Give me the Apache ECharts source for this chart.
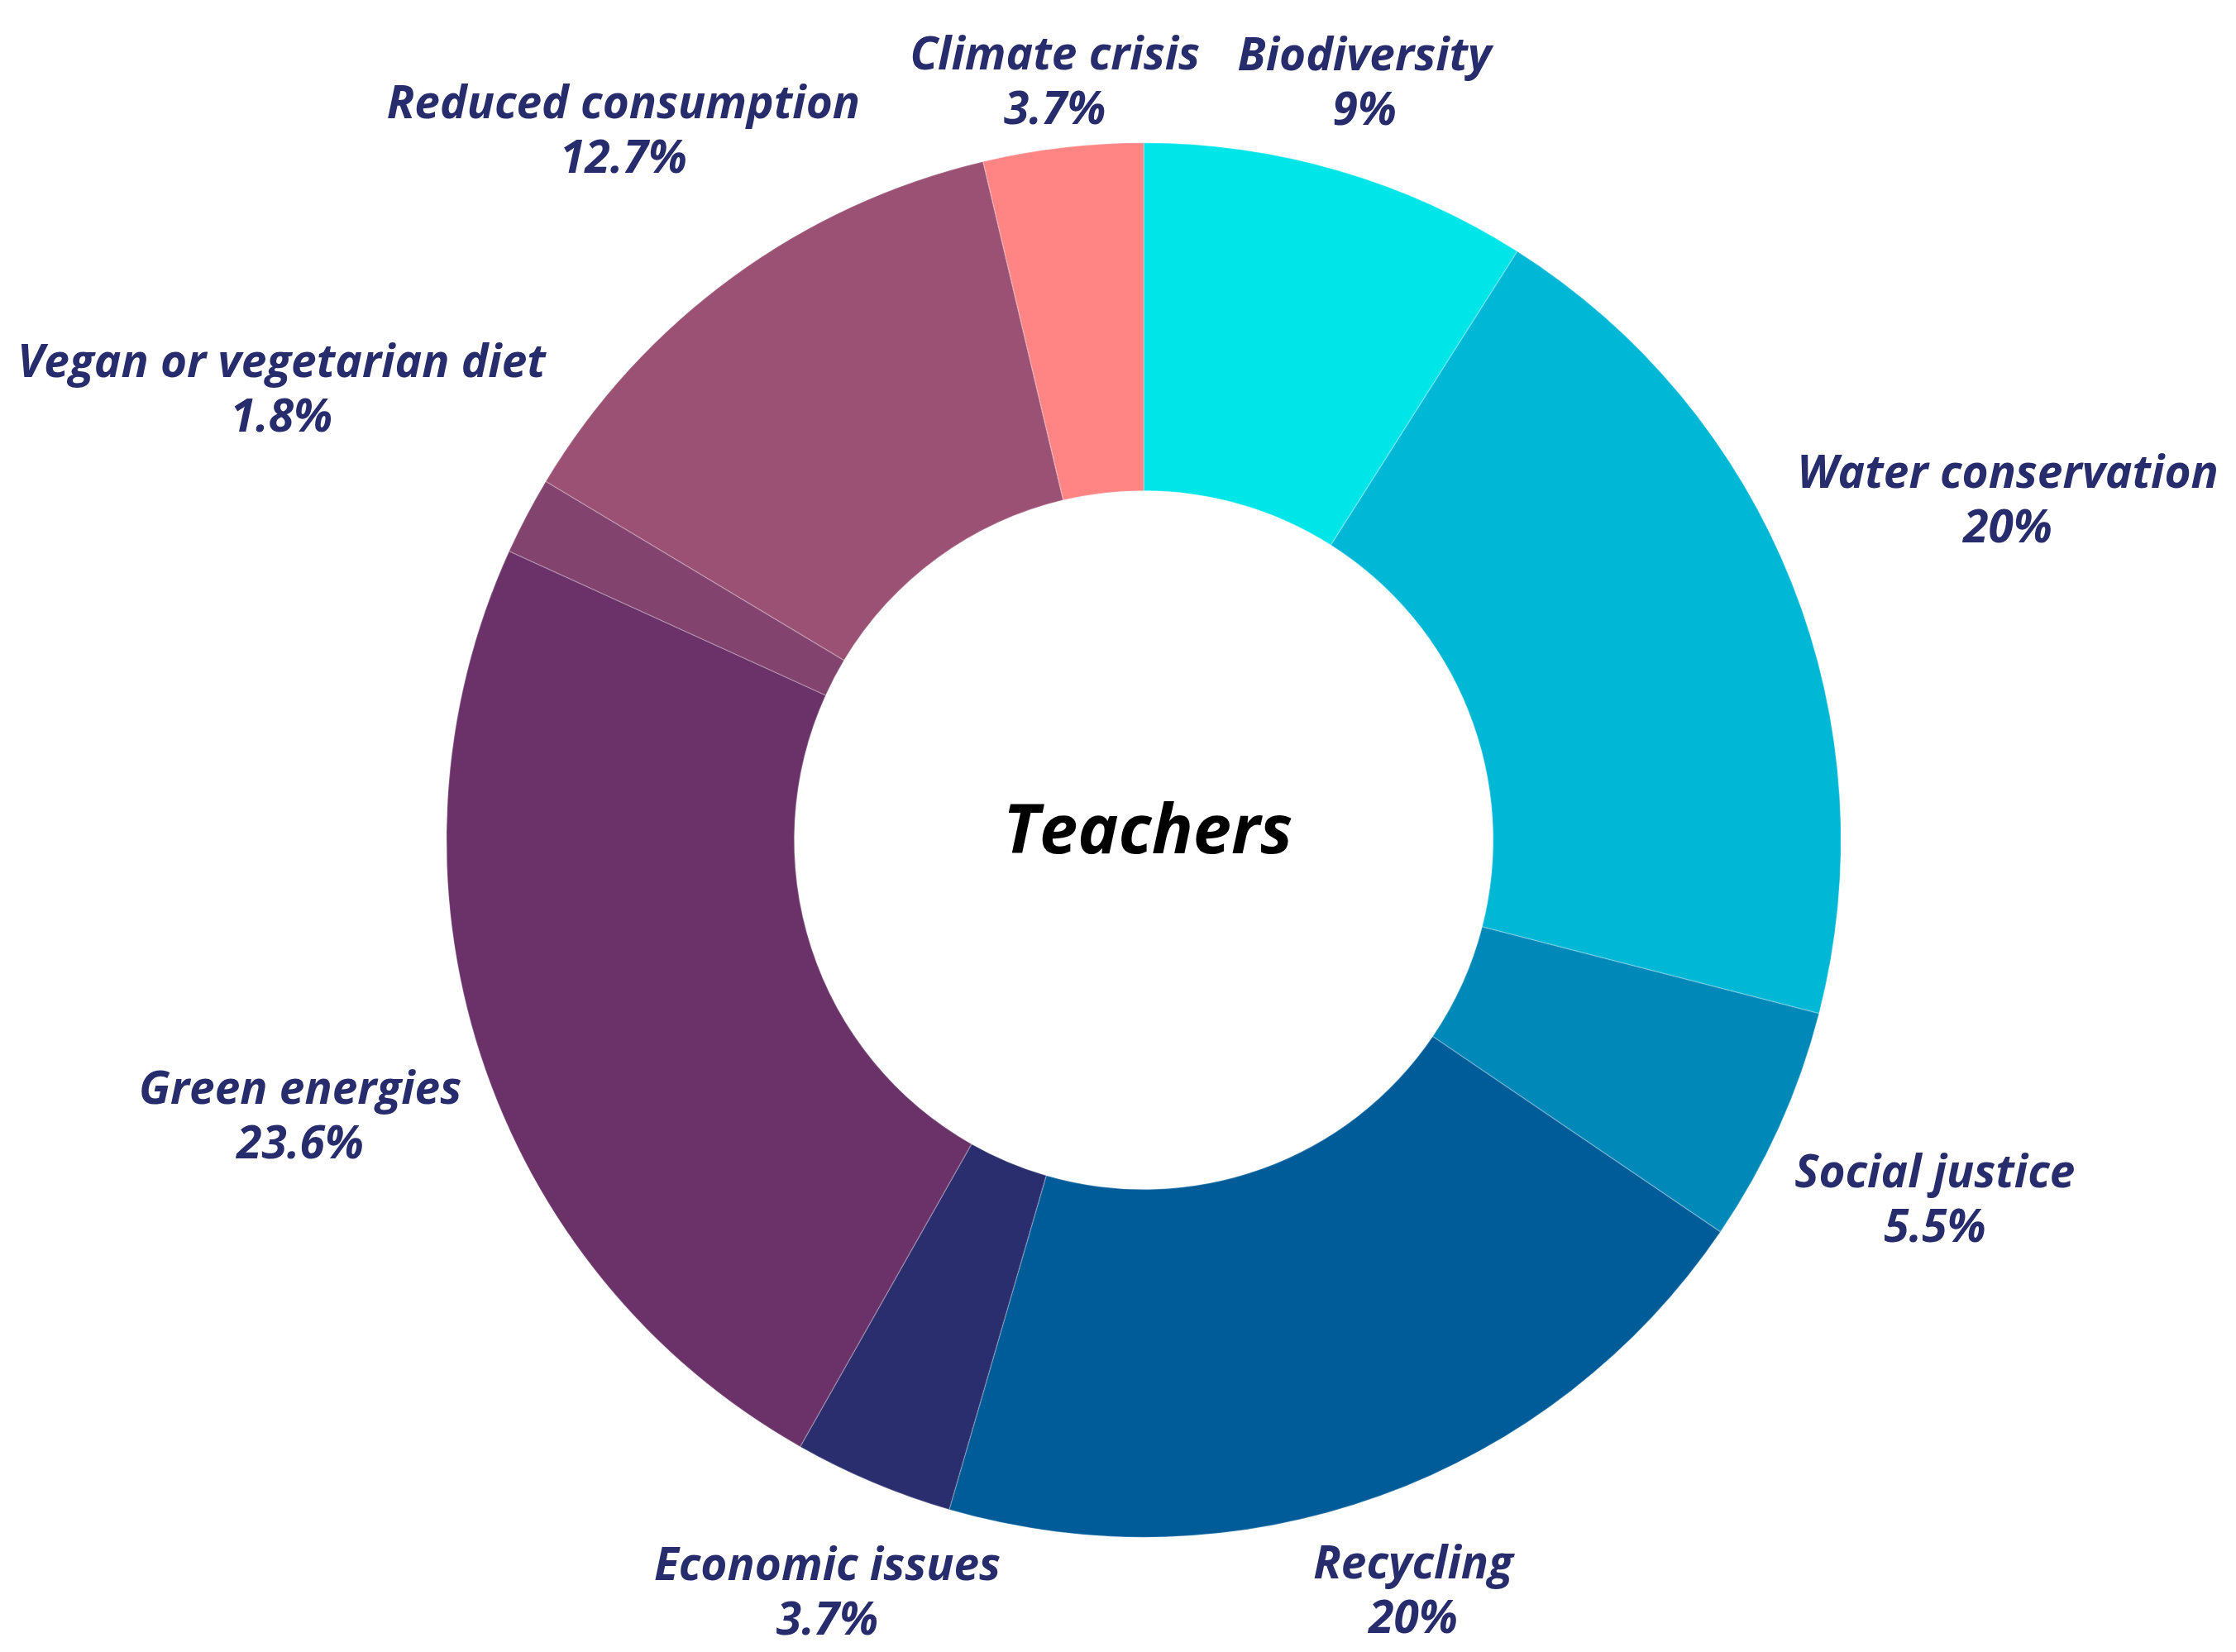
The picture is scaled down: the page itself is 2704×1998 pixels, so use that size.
<!DOCTYPE html>
<html>
<head>
<meta charset="utf-8">
<script src="https://cdn.jsdelivr.net/npm/echarts@6/dist/echarts.min.js"></script>
<style>
html,body{margin:0;padding:0;background:#fff;}
#chart{width:2704px;height:1998px;}
</style>
</head>
<body>
<div id="chart"></div>
<script>
// ---- data ----
const categories = ["Biodiversity","Water conservation","Social justice","Recycling","Economic issues","Green energies","Vegan or vegetarian diet","Reduced consumption","Climate crisis"];
const values = [9, 20, 5.5, 20, 3.7, 23.6, 1.8, 12.7, 3.7];
const colors = ["#00E6E8","#00B8D6","#0089B8","#005C99","#2B2E6E","#6A3268","#83436F","#9B5173","#FF8585"];
// label placement: distance of label centre from pie centre, as a multiple of the outer radius
const labelDist = [1.135, 1.333, 1.245, 1.141, 1.168, 1.272, 1.397, 1.264, 1.098];

const centerPct = [51.15, 50.85];
const outerPct = 84.4, innerPct = 42.3;

const chart = echarts.init(document.getElementById('chart'));
const total = values.reduce((a,b)=>a+b,0);
const cum = [];
values.reduce((acc,v,i)=>{cum[i]=acc; return acc+v;},0);

chart.setOption({
  backgroundColor:'#ffffff',
  animation:false,
  title:{
    text:'Teachers',
    left:centerPct[0]+'%',
    top:'50.2%',
    textAlign:'center',
    textVerticalAlign:'middle',
    textStyle:{fontFamily:'Open Sans',fontWeight:'bold',fontStyle:'italic',fontSize:83,color:'#000'}
  },
  series:[{
    type:'pie',
    center:[centerPct[0]+'%',centerPct[1]+'%'],
    radius:[innerPct+'%',outerPct+'%'],
    startAngle:90,
    clockwise:true,
    avoidLabelOverlap:false,
    itemStyle:{borderColor:'rgba(255,255,255,0.22)',borderWidth:1.5},
    label:{
      show:true,
      position:'outside',
      formatter:p=>p.name+'\n'+p.value+'%',
      fontFamily:'Open Sans',
      fontWeight:'bold',
      fontStyle:'italic',
      fontSize:55,
      lineHeight:66,
      color:'#272C6C'
    },
    labelLine:{show:false},
    labelLayout:function(p){
      const i=p.dataIndex;
      const W=chart.getWidth(),H=chart.getHeight();
      const cx=W*centerPct[0]/100, cy=H*centerPct[1]/100;
      const R=Math.min(W,H)/2*outerPct/100;
      const frac=(cum[i]+values[i]/2)/total;
      const ang=frac*2*Math.PI;
      const r=R*labelDist[i];
      return {x:cx+r*Math.sin(ang), y:cy-r*Math.cos(ang)+5, align:'center', verticalAlign:'middle'};
    },
    data:categories.map((c,i)=>({name:c,value:values[i],itemStyle:{color:colors[i]}}))
  }]
});
</script>
</body>
</html>
